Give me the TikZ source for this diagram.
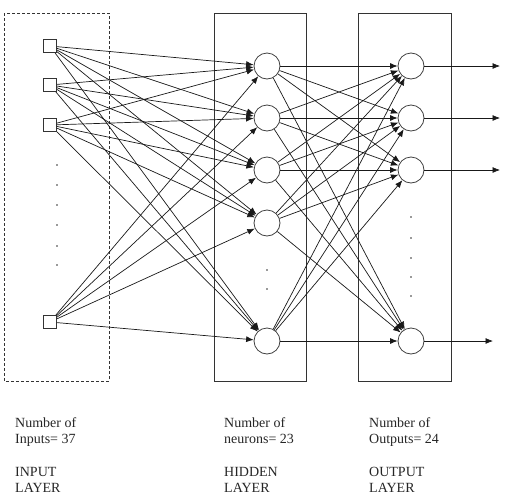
\documentclass[tikz,border=0pt]{standalone}
\usepackage{fontspec}
\setmainfont{Liberation Serif}
\usetikzlibrary{arrows.meta}
\begin{document}
\begin{tikzpicture}[x=1pt,y=-1pt,
  inbox/.style={draw=black!80,line width=0.8pt,minimum size=13pt,inner sep=0pt},
  neuron/.style={circle,draw=black!75,line width=0.8pt,minimum size=26pt,inner sep=0pt},
  conn/.style={draw=black!90,line width=0.7pt,-{Latex[length=7.5pt,width=6pt]}},
  layerbox/.style={draw=black!80,line width=0.8pt},
  dotmark/.style={circle,fill=black!80,inner sep=0pt,minimum size=1.6pt},
  label/.style={anchor=north west,align=left,inner sep=0pt,font=\fontsize{14pt}{16pt}\selectfont,text=black!85}]
\useasboundingbox (0,0) rectangle (525,501);
% layer boxes
\draw[layerbox,dash pattern=on 3pt off 2pt] (4,13) rectangle (109,381);
\draw[layerbox] (214,13) rectangle (306,381);
\draw[layerbox] (358,13) rectangle (451,381);
% inputs
\node[inbox] (i1) at (50,46) {};
\node[inbox] (i2) at (50,85) {};
\node[inbox] (i3) at (50,125) {};
\node[inbox] (i4) at (50,322) {};
\foreach \y [count=\k] in {165,185,205,225,246,265} \node[dotmark] (id\k) at (57,\y) {};
% hidden
\node[neuron] (h1) at (267,66) {};
\node[neuron] (h2) at (267,118) {};
\node[neuron] (h3) at (267,170) {};
\node[neuron] (h4) at (267,223) {};
\node[neuron] (h5) at (267,341) {};
\foreach \y [count=\k] in {270,289} \node[dotmark] (hd\k) at (267,\y) {};
% outputs
\node[neuron] (o1) at (411,66) {};
\node[neuron] (o2) at (411,118) {};
\node[neuron] (o3) at (411,170) {};
\node[neuron] (o4) at (411,341) {};
\foreach \y [count=\k] in {217,238,258,277,296} \node[dotmark] (od\k) at (411,\y) {};
% connections
\foreach \i in {1,2,3,4} \foreach \h in {1,2,3,4,5} \draw[conn] (i\i) -- (h\h);
\foreach \h in {1,2,3,4,5} \foreach \o in {1,2,3,4} \draw[conn] (h\h) -- (o\o);
\coordinate (e1) at (500,66);
\coordinate (e2) at (500,118);
\coordinate (e3) at (500,170);
\coordinate (e4) at (493,341);
\foreach \o in {1,2,3,4} \draw[conn] (o\o) -- (e\o);
% labels
\node[label] (t1) at (15,417) {Number of\\Inputs= 37};
\node[label] (t2) at (15,467) {INPUT\\LAYER};
\node[label] (t3) at (224,417) {Number of\\neurons= 23};
\node[label] (t4) at (224,467) {HIDDEN\\LAYER};
\node[label] (t5) at (369,417) {Number of\\Outputs= 24};
\node[label] (t6) at (369,467) {OUTPUT\\LAYER};
\end{tikzpicture}
\end{document}
